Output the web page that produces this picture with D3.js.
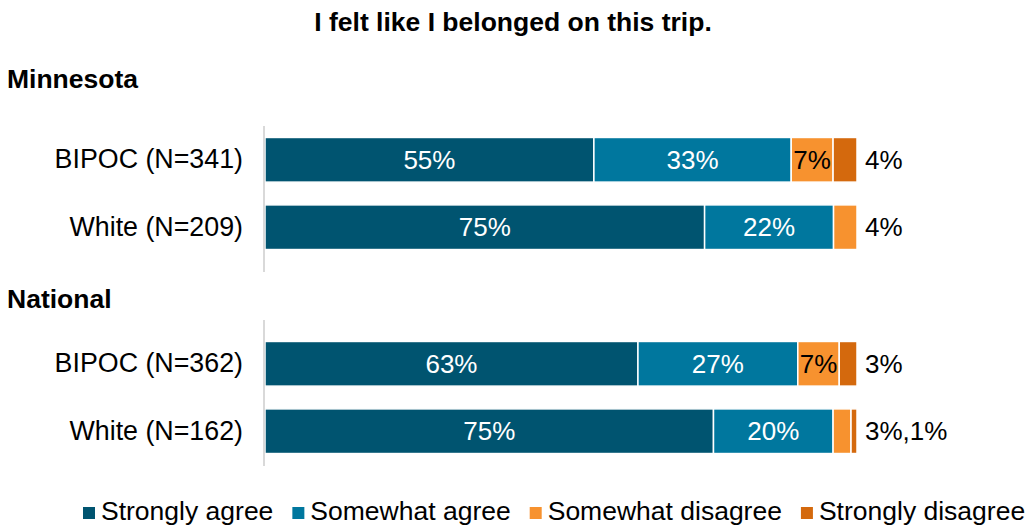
<!DOCTYPE html>
<html>
<head>
<meta charset="utf-8">
<script src="https://cdn.jsdelivr.net/npm/d3@7"></script>
<style>
  html, body { margin: 0; padding: 0; background: #ffffff; }
  svg { display: block; font-family: "Liberation Sans", Arial, sans-serif; }
</style>
</head>
<body>
<svg id="chart" width="1030" height="525"></svg>
<script>
// Survey responses: "I felt like I belonged on this trip."
const title = "I felt like I belonged on this trip.";
const groups = ["Minnesota", "National"];
const rowLabels = ["BIPOC (N=341)", "White (N=209)", "BIPOC (N=362)", "White (N=162)"];
const rowGroup = ["Minnesota", "Minnesota", "National", "National"];
const responses = ["Strongly agree", "Somewhat agree", "Somewhat disagree", "Strongly disagree"];
const stronglyAgree = [55, 75, 63, 75];
const somewhatAgree = [33, 22, 27, 20];
const somewhatDisagree = [7, 4, 7, 3];
const stronglyDisagree = [4, 0, 3, 1];
const colors = ["#005470", "#00779E", "#F7922F", "#D4690D"];

const rows = rowLabels.map((label, i) => ({
  label,
  group: rowGroup[i],
  "Strongly agree": stronglyAgree[i],
  "Somewhat agree": somewhatAgree[i],
  "Somewhat disagree": somewhatDisagree[i],
  "Strongly disagree": stronglyDisagree[i]
}));

const svg = d3.select("#chart");
const font = 26.5;
const valueFont = 26;

const x = d3.scaleLinear().domain([0, 1]).range([265, 857]);
const color = d3.scaleOrdinal().domain(responses).range(colors);

// One band scale per panel
const panels = {
  "Minnesota": { range: [126, 261], axis: [126, 272], titleY: 88 },
  "National":  { range: [330, 465], axis: [320, 466], titleY: 308 }
};

svg.append("text")
  .attr("x", 513).attr("y", 31)
  .attr("text-anchor", "middle")
  .attr("font-weight", "bold")
  .attr("font-size", font)
  .text(title);

const stack = d3.stack().keys(responses).offset(d3.stackOffsetExpand);

groups.forEach(g => {
  const p = panels[g];
  const data = rows.filter(r => r.group === g);
  const y = d3.scaleBand()
    .domain(data.map(d => d.label))
    .range(p.range)
    .paddingInner(0.338)
    .paddingOuter(0.17);

  svg.append("text")
    .attr("x", 7).attr("y", p.titleY)
    .attr("font-weight", "bold")
    .attr("font-size", font)
    .text(g);

  const series = stack(data);

  const layer = svg.append("g").selectAll("g")
    .data(series)
    .join("g")
    .attr("fill", d => color(d.key));

  layer.selectAll("rect")
    .data(d => d.map(s => Object.assign(s, { key: d.key })))
    .join("rect")
    .attr("x", d => x(d[0]))
    .attr("y", d => y(d.data.label))
    .attr("width", d => Math.max(0, x(d[1]) - x(d[0])))
    .attr("height", y.bandwidth())
    .attr("stroke", "#ffffff")
    .attr("stroke-width", 1.5);

  // Segment labels inside bars for larger shares
  layer.selectAll("text")
    .data(d => d.filter(s => s.data[d.key] >= 5))
    .join("text")
    .attr("x", d => (x(d[0]) + x(d[1])) / 2)
    .attr("y", d => y(d.data.label) + y.bandwidth() / 2)
    .attr("dy", "0.35em")
    .attr("text-anchor", "middle")
    .attr("font-size", valueFont)
    .attr("fill", d => (d.key === "Strongly agree" || d.key === "Somewhat agree") ? "#ffffff" : "#000000")
    .text(d => d.data[d.key] + "%");

  // Small shares listed to the right of each bar
  svg.append("g").selectAll("text")
    .data(data)
    .join("text")
    .attr("x", 865)
    .attr("y", d => y(d.label) + y.bandwidth() / 2)
    .attr("dy", "0.35em")
    .attr("font-size", valueFont)
    .attr("fill", "#000000")
    .text(d => responses.filter(k => d[k] > 0 && d[k] < 5).map(k => d[k] + "%").join(","));

  // Category axis
  const axis = svg.append("g")
    .attr("transform", `translate(${x(0) - 1},0)`)
    .call(d3.axisLeft(y).tickSize(0).tickPadding(21));
  axis.select(".domain").remove();
  axis.selectAll("text")
    .attr("font-size", 26.8)
    .attr("font-family", "Liberation Sans, Arial, sans-serif")
    .attr("fill", "#000000");

  svg.append("line")
    .attr("x1", x(0) - 1).attr("x2", x(0) - 1)
    .attr("y1", p.axis[0]).attr("y2", p.axis[1])
    .attr("stroke", "#d9d9d9")
    .attr("stroke-width", 2);
});

// Legend
const legend = svg.append("g").attr("transform", "translate(83,0)");
let lx = 0;
responses.forEach(k => {
  const item = legend.append("g").attr("transform", `translate(${lx},0)`);
  item.append("rect")
    .attr("x", 0).attr("y", 507)
    .attr("width", 12).attr("height", 12)
    .attr("fill", color(k));
  const t = item.append("text")
    .attr("x", 18).attr("y", 520)
    .attr("font-size", font)
    .text(k);
  lx += 18 + t.node().getComputedTextLength() + 19;
});
</script>
</body>
</html>
